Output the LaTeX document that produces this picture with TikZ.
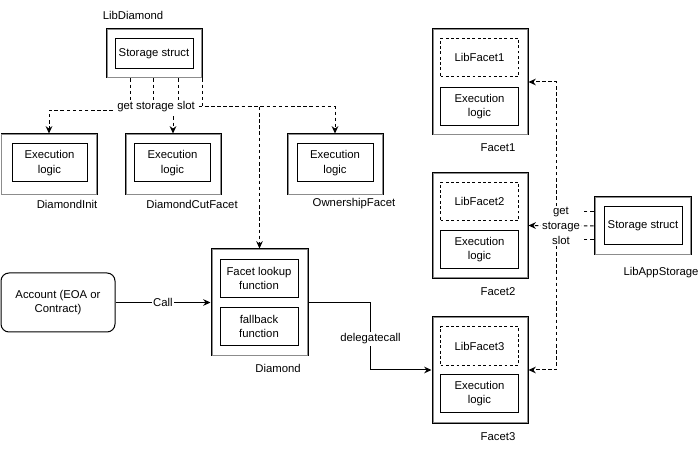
\documentclass[tikz,border=0pt]{standalone}
\usepackage{fontspec}
\setmainfont{Liberation Sans}
\usetikzlibrary{arrows.meta,calc}
\tikzset{
  base/.style={font=\fontsize{8.5}{11}\selectfont, align=center, inner sep=0pt},
  outerbox/.style={base, draw=black, line width=0.75pt, fill=white},
  innerbox/.style={base, draw=black, line width=0.75pt, fill=white, minimum width=58.5pt, minimum height=29pt},
  libbox/.style={innerbox, dash pattern=on 2.2pt off 1.8pt},
  acctbox/.style={base, draw=black, line width=0.75pt, rounded corners=6pt},
  caption/.style={base},
  dasharrow/.style={line width=0.75pt, dash pattern=on 2.6pt off 2pt, -{Stealth[length=5.5pt,width=5pt]}},
  solidarrow/.style={line width=0.75pt, -{Stealth[length=5.5pt,width=5pt]}},
  elabel/.style={base, fill=white, inner sep=1pt}
}
\begin{document}
\begin{tikzpicture}[x=0.75pt,y=-0.75pt]
\useasboundingbox (0,0) rectangle (700,452);
% outer boxes
\node[outerbox, minimum width=72pt, minimum height=36.75pt] (libd) at (154,53.5) {};
\node[outerbox, minimum width=72pt, minimum height=45.75pt] (dinit) at (49,164.5) {};
\node[outerbox, minimum width=72pt, minimum height=45.75pt] (dcut) at (173,164.5) {};
\node[outerbox, minimum width=72pt, minimum height=45.75pt] (own) at (335,164.5) {};
\node[outerbox, minimum width=72pt, minimum height=79.5pt] (facet1) at (480,82) {};
\node[outerbox, minimum width=72pt, minimum height=79.5pt] (facet2) at (480,225.5) {};
\node[outerbox, minimum width=72pt, minimum height=79.5pt] (facet3) at (480,370) {};
\node[outerbox, minimum width=72.75pt, minimum height=43.5pt] (libapp) at (642.5,226) {};
\node[outerbox, minimum width=72.75pt, minimum height=80.25pt] (diamond) at (259.5,302.5) {};
\foreach \n in {libd,dinit,dcut,own,facet1,facet2,facet3,libapp,diamond}{
  \draw[black!45, line width=0.6pt] ($(\n.north west)+(1.4,1.4)$) rectangle ($(\n.south east)+(-1.4,-1.4)$);
}
% inner boxes
\node[innerbox, minimum height=22pt] (ss1) at (154,53.5) {Storage struct};
\node[innerbox, minimum width=56.25pt, minimum height=28.5pt] (ex0) at (49.5,163) {Execution\\logic};
\node[innerbox, minimum width=57pt, minimum height=28.5pt] (ex1) at (172.5,163) {Execution\\logic};
\node[innerbox, minimum width=57pt, minimum height=28.5pt] (ex2) at (335,163) {Execution\\logic};
\node[libbox] (lf1) at (479.5,57.5) {LibFacet1};
\node[innerbox] (ef1) at (479.5,106.5) {Execution\\logic};
\node[libbox] (lf2) at (479.5,201.5) {LibFacet2};
\node[innerbox] (ef2) at (479.5,249.5) {Execution\\logic};
\node[libbox] (lf3) at (479.5,346) {LibFacet3};
\node[innerbox] (ef3) at (479.5,393.5) {Execution\\logic};
\node[innerbox, minimum height=28.5pt] (ss2) at (643,226) {Storage struct};
\node[innerbox] (flk) at (259,278.5) {Facet lookup\\function};
\node[innerbox] (fbk) at (259,326.5) {fallback\\function};
\node[acctbox, minimum width=85.5pt, minimum height=44.25pt] (acct) at (58,302.5) {Account (EOA or\\Contract)};
% captions
\node[caption] (c1) at (133,15) {LibDiamond};
\node[caption] (c2) at (67,204) {DiamondInit};
\node[caption] (c3) at (192,204) {DiamondCutFacet};
\node[caption] (c4) at (354,204) {OwnershipFacet};
\node[caption] (c5) at (498,148) {Facet1};
\node[caption] (c6) at (498,292) {Facet2};
\node[caption] (c7) at (498,437) {Facet3};
\node[caption] (c8) at (661,273) {LibAppStorage};
\node[caption] (c9) at (278,368) {Diamond};
% LibDiamond edges
\draw[dasharrow] ($(libd.south)+(-24,0)$) -- ++(0,32) -| (dinit.north);
\draw[dasharrow] ($(libd.south)+(-1,0)$) -- ++(0,28) -| (diamond.north);
\draw[dasharrow] ($(libd.south)+(24,0)$) -- ++(0,25) -| (dcut.north);
\draw[dasharrow] (libd.south east) -- ++(0,28) -| (own.north);
\node[elabel] (gss1) at (156,107) {get storage slot};
% Call & delegatecall
\draw[solidarrow] (acct) -- node[elabel] {Call} (diamond);
\draw[solidarrow] (diamond.east) -- ++(62,0) |- node[elabel, pos=0.27] {delegatecall} (facet3.west);
% LibAppStorage edges
\draw[dasharrow] ($(libapp.west)+(0,-14)$) -- ++(-37,0) |- (facet1.east);
\draw[dasharrow] (libapp.west) -- (facet2.east);
\draw[dasharrow] ($(libapp.west)+(0,14)$) -- ++(-37,0) |- (facet3.east);
\node[elabel, inner sep=0.5pt] (gss2) at (561,226) {get\\storage\\slot};
\end{tikzpicture}
\end{document}
